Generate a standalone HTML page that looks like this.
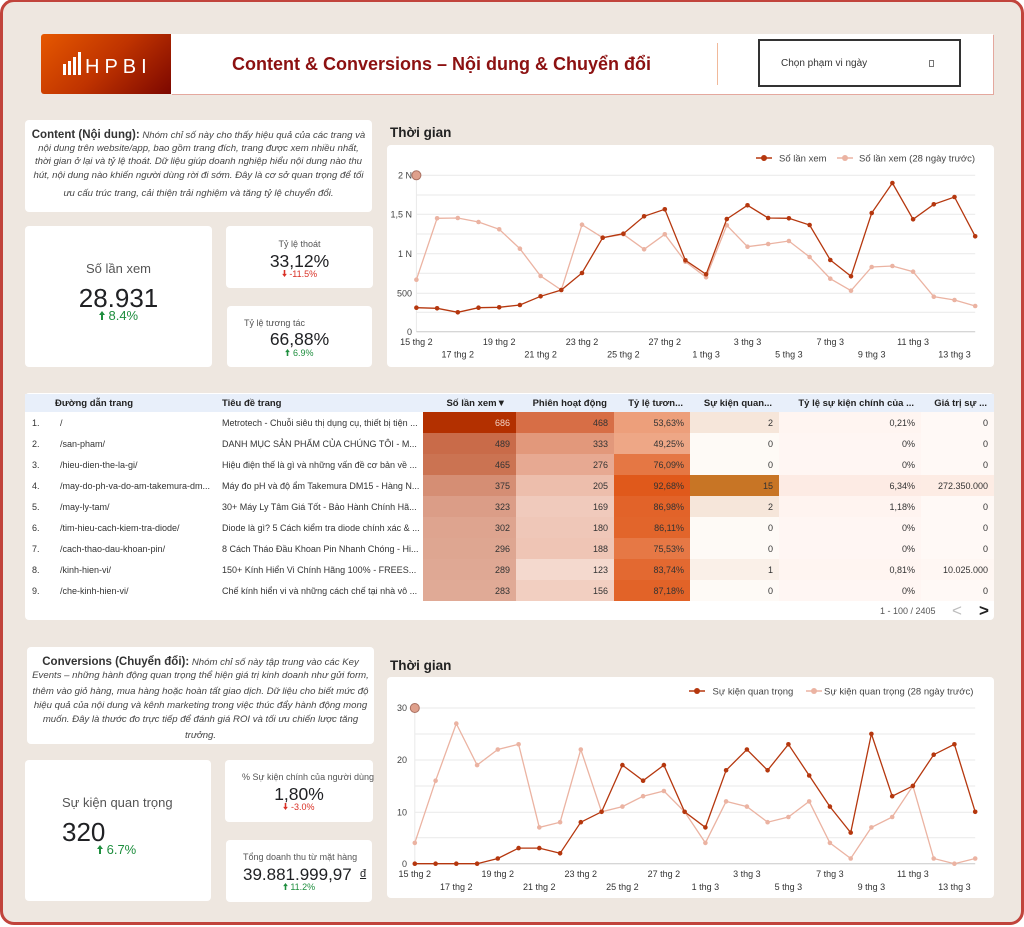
<!DOCTYPE html>
<html><head><meta charset="utf-8">
<style>
*{margin:0;padding:0;box-sizing:border-box}
html,body{width:1024px;height:927px;overflow:hidden;background:#fff}
body{position:relative;font-family:"Liberation Sans","Noto Sans CJK SC",sans-serif;color:#333}
.frame{position:absolute;left:0;top:-1px;width:1024px;height:926px;border:3px solid #c1443c;border-radius:14px;background:#eee7e0}
.a{position:absolute;white-space:nowrap}
.card{position:absolute;background:#fff;border-radius:4px}
.dl{position:absolute;white-space:nowrap;text-align:center;font-size:9.6px;font-style:italic;color:#444;line-height:14px}
.dl b{font-style:normal;font-size:11.5px;color:#333}
.lab{color:#555}
.g{color:#1e8e3e}
.r{color:#d93025}
table{position:absolute;left:25px;top:394px;width:969px;border-collapse:collapse;table-layout:fixed;font-size:9px}
th{height:18px;background:#e8effa;font-weight:bold;font-size:9.5px;color:#222;text-align:right;padding:0 7px 0 0;white-space:nowrap;overflow:hidden}
th.l{text-align:left;padding:0}
td{height:21px;padding:0 6px 0 0;text-align:right;white-space:nowrap;overflow:hidden;color:#333}
td.l{text-align:left;padding:0}
</style></head><body>
<div class="frame"></div>

<!-- Header -->
<div class="a" style="left:41px;top:34px;width:130px;height:60px;border-radius:3px 0 0 3px;background:linear-gradient(135deg,#e65800 0%,#bf3300 50%,#7c0700 100%)"></div>
<div class="a" style="left:63px;top:64px;width:3px;height:11px;background:#fff"></div>
<div class="a" style="left:68px;top:61px;width:3px;height:14px;background:#fff"></div>
<div class="a" style="left:73px;top:57px;width:3px;height:18px;background:#fff"></div>
<div class="a" style="left:78px;top:52px;width:3px;height:23px;background:#fff"></div>
<div class="a" style="left:85px;top:57px;font-size:20px;line-height:20px;color:#fff;letter-spacing:5px">HPBI</div>
<div class="a" style="left:171px;top:34px;width:822px;height:60px;background:#fff;box-shadow:1px 1px 0 #e4a89e"></div>
<div class="a" style="left:232px;top:53px;font-size:18px;line-height:22px;font-weight:bold;color:#8c1111">Content &amp; Conversions – Nội dung &amp; Chuyển đổi</div>
<div class="a" style="left:717px;top:43px;width:1px;height:42px;background:#f1b99a"></div>
<div class="a" style="left:758px;top:39px;width:203px;height:48px;border:2px solid #333;background:#fff"></div>
<div class="a" style="left:781px;top:58px;font-size:10px;line-height:12px;color:#333">Chọn phạm vi ngày</div>
<div class="a" style="left:929px;top:60px;width:5px;height:7px;border:1px solid #777"></div>

<!-- Content description -->
<div class="card" style="left:25px;top:120px;width:347px;height:92px"></div>
<div class="dl" style="left:25px;width:347px;top:128px"><b>Content (Nội dung):</b> Nhóm chỉ số này cho thấy hiệu quả của các trang và</div>
<div class="dl" style="left:25px;width:347px;top:142px">nội dung trên website/app, bao gồm trang đích, trang được xem nhiều nhất,</div>
<div class="dl" style="left:25px;width:347px;top:155px">thời gian ở lại và tỷ lệ thoát. Dữ liệu giúp doanh nghiệp hiểu nội dung nào thu</div>
<div class="dl" style="left:25px;width:347px;top:169px">hút, nội dung nào khiến người dùng rời đi sớm. Đây là cơ sở quan trọng để tối</div>
<div class="dl" style="left:25px;width:347px;top:187px">ưu cấu trúc trang, cải thiện trải nghiệm và tăng tỷ lệ chuyển đổi.</div>

<!-- KPI cards top -->
<div class="card" style="left:25px;top:226px;width:187px;height:141px"></div>
<div class="a lab" style="left:25px;width:187px;text-align:center;top:261px;font-size:13px;line-height:16px">Số lần xem</div>
<div class="a" style="left:25px;width:187px;text-align:center;top:283px;font-size:26px;line-height:30px;color:#202124">28.931</div>
<div class="a g" style="left:25px;width:187px;text-align:center;top:308px;font-size:13px;line-height:16px"><svg width="6" height="9" viewBox="0 0 6 9"><path d="M3 0L6 4H4V9H2V4H0Z" fill="#1e8e3e"/></svg> 8.4%</div>

<div class="card" style="left:226px;top:226px;width:147px;height:62px"></div>
<div class="a lab" style="left:226px;width:147px;text-align:center;top:238px;font-size:9px;line-height:12px">Tỷ lệ thoát</div>
<div class="a" style="left:226px;width:147px;text-align:center;top:251px;font-size:17.5px;line-height:21px;color:#202124">33,12%</div>
<div class="a r" style="left:226px;width:147px;text-align:center;top:269px;font-size:9px;line-height:11px"><svg width="5" height="7" viewBox="0 0 6 9"><path d="M3 9L6 5H4V0H2V5H0Z" fill="#d93025"/></svg> -11.5%</div>

<div class="card" style="left:227px;top:306px;width:145px;height:61px"></div>
<div class="a lab" style="left:244px;top:317px;font-size:9px;line-height:12px">Tỷ lệ tương tác</div>
<div class="a" style="left:227px;width:145px;text-align:center;top:329px;font-size:17.5px;line-height:21px;color:#202124">66,88%</div>
<div class="a g" style="left:227px;width:145px;text-align:center;top:348px;font-size:9px;line-height:11px"><svg width="5" height="7" viewBox="0 0 6 9"><path d="M3 0L6 4H4V9H2V4H0Z" fill="#1e8e3e"/></svg> 6.9%</div>

<!-- Chart 1 -->
<div class="a" style="left:390px;top:125px;font-size:13.5px;line-height:16px;font-weight:bold;color:#222">Thời gian</div>
<div class="card" style="left:387px;top:145px;width:607px;height:222px"></div>

<!-- Table -->
<div class="card" style="left:25px;top:393px;width:969px;height:227px"></div>
<table>
<colgroup><col style="width:30px"><col style="width:161px"><col style="width:207px"><col style="width:93px"><col style="width:98px"><col style="width:76px"><col style="width:89px"><col style="width:142px"><col style="width:73px"></colgroup>
<tr><th></th><th class="l">Đường dẫn trang</th><th class="l" style="padding-left:6px">Tiêu đề trang</th><th style="padding-right:10px">Số lần xem▼</th><th>Phiên hoạt động</th><th>Tỷ lệ tươn...</th><th>Sự kiện quan...</th><th>Tỷ lệ sự kiện chính của ...</th><th>Giá trị sự ...</th></tr>
<tr><td class="l" style="padding-left:7px">1.</td><td class="l" style="padding-left:5px">/</td><td class="l" style="padding-left:6px">Metrotech - Chuỗi siêu thị dụng cụ, thiết bị tiện ...</td><td style="background:rgb(179,48,0);color:#f3d3c5">686</td><td style="background:rgb(215,110,70)">468</td><td style="background:rgb(237,159,123)">53,63%</td><td style="background:rgb(246,230,218)">2</td><td style="background:rgb(255,245,241)">0,21%</td><td style="background:rgb(255,249,246)">0</td></tr>
<tr><td class="l" style="padding-left:7px">2.</td><td class="l" style="padding-left:5px">/san-pham/</td><td class="l" style="padding-left:6px">DANH MỤC SẢN PHẨM CỦA CHÚNG TÔI - M...</td><td style="background:rgb(201,107,73)">489</td><td style="background:rgb(226,152,123)">333</td><td style="background:rgb(238,167,134)">49,25%</td><td style="background:rgb(254,250,246)">0</td><td style="background:rgb(255,246,243)">0%</td><td style="background:rgb(255,249,246)">0</td></tr>
<tr><td class="l" style="padding-left:7px">3.</td><td class="l" style="padding-left:5px">/hieu-dien-the-la-gi/</td><td class="l" style="padding-left:6px">Hiệu điện thế là gì và những vấn đề cơ bản về ...</td><td style="background:rgb(203,115,82)">465</td><td style="background:rgb(231,169,146)">276</td><td style="background:rgb(229,119,68)">76,09%</td><td style="background:rgb(254,250,246)">0</td><td style="background:rgb(255,246,243)">0%</td><td style="background:rgb(255,249,246)">0</td></tr>
<tr><td class="l" style="padding-left:7px">4.</td><td class="l" style="padding-left:5px">/may-do-ph-va-do-am-takemura-dm...</td><td class="l" style="padding-left:6px">Máy đo pH và độ ẩm Takemura DM15 - Hàng N...</td><td style="background:rgb(213,142,116)">375</td><td style="background:rgb(237,190,172)">205</td><td style="background:rgb(224,89,27)">92,68%</td><td style="background:rgb(200,117,37)">15</td><td style="background:rgb(253,235,228)">6,34%</td><td style="background:rgb(253,236,228)">272.350.000</td></tr>
<tr><td class="l" style="padding-left:7px">5.</td><td class="l" style="padding-left:5px">/may-ly-tam/</td><td class="l" style="padding-left:6px">30+ Máy Ly Tâm Giá Tốt - Bảo Hành Chính Hã...</td><td style="background:rgb(219,157,135)">323</td><td style="background:rgb(240,202,188)">169</td><td style="background:rgb(226,99,41)">86,98%</td><td style="background:rgb(246,230,218)">2</td><td style="background:rgb(255,244,240)">1,18%</td><td style="background:rgb(255,249,246)">0</td></tr>
<tr><td class="l" style="padding-left:7px">6.</td><td class="l" style="padding-left:5px">/tim-hieu-cach-kiem-tra-diode/</td><td class="l" style="padding-left:6px">Diode là gì? 5 Cách kiểm tra diode chính xác &amp; ...</td><td style="background:rgb(222,164,143)">302</td><td style="background:rgb(239,199,184)">180</td><td style="background:rgb(226,101,43)">86,11%</td><td style="background:rgb(254,250,246)">0</td><td style="background:rgb(255,246,243)">0%</td><td style="background:rgb(255,249,246)">0</td></tr>
<tr><td class="l" style="padding-left:7px">7.</td><td class="l" style="padding-left:5px">/cach-thao-dau-khoan-pin/</td><td class="l" style="padding-left:6px">8 Cách Tháo Đầu Khoan Pin Nhanh Chóng - Hi...</td><td style="background:rgb(222,166,145)">296</td><td style="background:rgb(239,197,181)">188</td><td style="background:rgb(230,120,69)">75,53%</td><td style="background:rgb(254,250,246)">0</td><td style="background:rgb(255,246,243)">0%</td><td style="background:rgb(255,249,246)">0</td></tr>
<tr><td class="l" style="padding-left:7px">8.</td><td class="l" style="padding-left:5px">/kinh-hien-vi/</td><td class="l" style="padding-left:6px">150+ Kính Hiển Vi Chính Hãng 100% - FREES...</td><td style="background:rgb(223,168,148)">289</td><td style="background:rgb(244,217,206)">123</td><td style="background:rgb(227,105,49)">83,74%</td><td style="background:rgb(250,240,232)">1</td><td style="background:rgb(255,245,241)">0,81%</td><td style="background:rgb(255,247,243)">10.025.000</td></tr>
<tr><td class="l" style="padding-left:7px">9.</td><td class="l" style="padding-left:5px">/che-kinh-hien-vi/</td><td class="l" style="padding-left:6px">Chế kính hiển vi và những cách chế tại nhà vô ...</td><td style="background:rgb(224,170,150)">283</td><td style="background:rgb(242,207,193)">156</td><td style="background:rgb(226,99,40)">87,18%</td><td style="background:rgb(254,250,246)">0</td><td style="background:rgb(255,246,243)">0%</td><td style="background:rgb(255,249,246)">0</td></tr>
</table>
<div class="a" style="left:880px;top:605px;font-size:9px;line-height:12px;color:#555">1 - 100 / 2405</div>
<div class="a" style="left:952px;top:601px;font-size:17px;line-height:20px;color:#bdbdbd">&lt;</div>
<div class="a" style="left:979px;top:601px;font-size:17px;line-height:20px;color:#222;font-weight:bold">&gt;</div>

<!-- Conversions description -->
<div class="card" style="left:27px;top:647px;width:347px;height:97px"></div>
<div class="dl" style="left:27px;width:347px;top:655px"><b>Conversions (Chuyển đổi):</b> Nhóm chỉ số này tập trung vào các Key</div>
<div class="dl" style="left:27px;width:347px;top:669px">Events – những hành động quan trọng thể hiện giá trị kinh doanh như gửi form,</div>
<div class="dl" style="left:27px;width:347px;top:685px">thêm vào giỏ hàng, mua hàng hoặc hoàn tất giao dịch. Dữ liệu cho biết mức độ</div>
<div class="dl" style="left:27px;width:347px;top:699px">hiệu quả của nội dung và kênh marketing trong việc thúc đẩy hành động mong</div>
<div class="dl" style="left:27px;width:347px;top:713px">muốn. Đây là thước đo trực tiếp để đánh giá ROI và tối ưu chiến lược tăng</div>
<div class="dl" style="left:27px;width:347px;top:729px">trưởng.</div>

<!-- KPI cards bottom -->
<div class="card" style="left:25px;top:760px;width:186px;height:141px"></div>
<div class="a lab" style="left:62px;top:795px;font-size:13px;line-height:16px">Sự kiện quan trọng</div>
<div class="a" style="left:62px;top:817px;font-size:26px;line-height:30px;color:#202124">320</div>
<div class="a g" style="left:97px;top:842px;font-size:13px;line-height:16px"><svg width="6" height="9" viewBox="0 0 6 9"><path d="M3 0L6 4H4V9H2V4H0Z" fill="#1e8e3e"/></svg> 6.7%</div>

<div class="card" style="left:225px;top:760px;width:148px;height:62px"></div>
<div class="a lab" style="left:242px;top:771px;font-size:9px;line-height:12px">% Sự kiện chính của người dùng</div>
<div class="a" style="left:225px;width:148px;text-align:center;top:784px;font-size:17.5px;line-height:21px;color:#202124">1,80%</div>
<div class="a r" style="left:225px;width:148px;text-align:center;top:802px;font-size:9px;line-height:11px"><svg width="5" height="7" viewBox="0 0 6 9"><path d="M3 9L6 5H4V0H2V5H0Z" fill="#d93025"/></svg> -3.0%</div>

<div class="card" style="left:226px;top:840px;width:146px;height:62px"></div>
<div class="a lab" style="left:243px;top:851px;font-size:9px;line-height:12px">Tổng doanh thu từ mặt hàng</div>
<div class="a" style="left:243px;top:865px;font-size:17px;line-height:20px;color:#202124">39.881.999,97</div>
<div class="a" style="left:360px;top:867px;font-size:11px;line-height:14px;color:#202124;text-decoration:underline">đ</div>
<div class="a g" style="left:226px;width:146px;text-align:center;top:882px;font-size:9px;line-height:11px"><svg width="5" height="7" viewBox="0 0 6 9"><path d="M3 0L6 4H4V9H2V4H0Z" fill="#1e8e3e"/></svg> 11.2%</div>

<!-- Chart 2 -->
<div class="a" style="left:390px;top:658px;font-size:13.5px;line-height:16px;font-weight:bold;color:#222">Thời gian</div>
<div class="card" style="left:387px;top:677px;width:607px;height:221px"></div>

<svg class="a" style="left:0;top:0" width="1024" height="927" viewBox="0 0 1024 927" font-family="Liberation Sans, sans-serif">
<defs>
<marker id="md" markerWidth="6" markerHeight="6" refX="3" refY="3" markerUnits="userSpaceOnUse"><circle cx="3" cy="3" r="2.3" fill="#b5370e"/></marker>
<marker id="ml" markerWidth="6" markerHeight="6" refX="3" refY="3" markerUnits="userSpaceOnUse"><circle cx="3" cy="3" r="2.3" fill="#ebb3a2"/></marker>
</defs>
<!-- chart1 grid -->
<g stroke="#e9e9e9" stroke-width="1">
<line x1="416.4" x2="975.2" y1="175.3" y2="175.3"/><line x1="416.4" x2="975.2" y1="195" y2="195"/>
<line x1="416.4" x2="975.2" y1="214.3" y2="214.3"/><line x1="416.4" x2="975.2" y1="234" y2="234"/>
<line x1="416.4" x2="975.2" y1="253.7" y2="253.7"/><line x1="416.4" x2="975.2" y1="273.3" y2="273.3"/>
<line x1="416.4" x2="975.2" y1="293.3" y2="293.3"/><line x1="416.4" x2="975.2" y1="312.3" y2="312.3"/>
<line x1="416.4" x2="416.4" y1="175.3" y2="331.7"/>
</g>
<line x1="416.4" x2="975.2" y1="331.7" y2="331.7" stroke="#c8c8c8"/>
<g font-size="9" fill="#444" text-anchor="end">
<text x="412" y="178.5">2 N</text><text x="412" y="217.5">1,5 N</text><text x="412" y="256.9">1 N</text><text x="412" y="296.5">500</text><text x="412" y="334.9">0</text>
</g>
<g font-size="9" fill="#333" text-anchor="middle">
<text x="416.4" y="345">15 thg 2</text><text x="499.2" y="345">19 thg 2</text><text x="582" y="345">23 thg 2</text><text x="664.8" y="345">27 thg 2</text><text x="747.5" y="345">3 thg 3</text><text x="830.3" y="345">7 thg 3</text><text x="913.1" y="345">11 thg 3</text>
<text x="457.8" y="357.5">17 thg 2</text><text x="540.6" y="357.5">21 thg 2</text><text x="623.4" y="357.5">25 thg 2</text><text x="706.1" y="357.5">1 thg 3</text><text x="788.9" y="357.5">5 thg 3</text><text x="871.7" y="357.5">9 thg 3</text><text x="954.5" y="357.5">13 thg 3</text>
</g>
<polyline fill="none" stroke="#ebb3a2" stroke-width="1.3" marker-start="url(#ml)" marker-mid="url(#ml)" marker-end="url(#ml)" points="416.4,279.7 437.1,218.3 457.8,218.0 478.5,222.0 499.2,229.3 519.9,248.7 540.6,276.0 561.3,290.0 582.0,224.7 602.7,237.7 623.4,234.3 644.1,249.3 664.8,234.3 685.4,261.7 706.1,277.3 726.8,225.3 747.5,246.7 768.2,244.0 788.9,241.0 809.6,257.0 830.3,278.7 851.0,290.7 871.7,267.0 892.4,266.0 913.1,271.7 933.8,296.7 954.5,300.0 975.2,306.0"/>
<polyline fill="none" stroke="#b5370e" stroke-width="1.3" marker-start="url(#md)" marker-mid="url(#md)" marker-end="url(#md)" points="416.4,307.7 437.1,308.3 457.8,312.3 478.5,307.7 499.2,307.3 519.9,305.0 540.6,296.3 561.3,290.0 582.0,273.0 602.7,237.7 623.4,233.7 644.1,216.3 664.8,209.3 685.4,260.3 706.1,274.3 726.8,219.0 747.5,205.3 768.2,218.0 788.9,218.3 809.6,225.0 830.3,260.0 851.0,276.3 871.7,213.0 892.4,183.0 913.1,219.3 933.8,204.3 954.5,197.0 975.2,236.3"/>
<circle cx="416.4" cy="175.3" r="4.5" fill="#dfa08c" stroke="#a86f60" stroke-width="1"/>
<!-- legend1 -->
<line x1="756" x2="772" y1="158" y2="158" stroke="#b5370e" stroke-width="1.5"/><circle cx="764" cy="158" r="3" fill="#b5370e"/>
<text x="779" y="161.5" font-size="9.5" fill="#444">Số lần xem</text>
<line x1="837" x2="853" y1="158" y2="158" stroke="#ebb3a2" stroke-width="1.5"/><circle cx="845" cy="158" r="3" fill="#ebb3a2"/>
<text x="859" y="161.5" font-size="9.5" fill="#444">Số lần xem (28 ngày trước)</text>

<!-- chart2 grid -->
<g stroke="#e9e9e9" stroke-width="1">
<line x1="414.8" x2="975.2" y1="708" y2="708"/><line x1="414.8" x2="975.2" y1="734" y2="734"/>
<line x1="414.8" x2="975.2" y1="760" y2="760"/><line x1="414.8" x2="975.2" y1="786" y2="786"/>
<line x1="414.8" x2="975.2" y1="812.3" y2="812.3"/><line x1="414.8" x2="975.2" y1="837.7" y2="837.7"/>
<line x1="414.8" x2="414.8" y1="708" y2="863.7"/>
</g>
<line x1="414.8" x2="975.2" y1="863.7" y2="863.7" stroke="#c8c8c8"/>
<g font-size="9" fill="#444" text-anchor="end">
<text x="407" y="711.2">30</text><text x="407" y="763.2">20</text><text x="407" y="815.5">10</text><text x="407" y="866.9">0</text>
</g>
<g font-size="9" fill="#333" text-anchor="middle">
<text x="414.8" y="877">15 thg 2</text><text x="497.8" y="877">19 thg 2</text><text x="580.8" y="877">23 thg 2</text><text x="663.9" y="877">27 thg 2</text><text x="746.9" y="877">3 thg 3</text><text x="829.9" y="877">7 thg 3</text><text x="912.9" y="877">11 thg 3</text>
<text x="456.3" y="890">17 thg 2</text><text x="539.3" y="890">21 thg 2</text><text x="622.4" y="890">25 thg 2</text><text x="705.4" y="890">1 thg 3</text><text x="788.4" y="890">5 thg 3</text><text x="871.4" y="890">9 thg 3</text><text x="954.4" y="890">13 thg 3</text>
</g>
<polyline fill="none" stroke="#ebb3a2" stroke-width="1.3" marker-start="url(#ml)" marker-mid="url(#ml)" marker-end="url(#ml)" points="414.8,842.9 435.6,780.7 456.3,723.6 477.1,765.1 497.8,749.5 518.6,744.3 539.3,827.4 560.1,822.2 580.8,749.5 601.6,811.8 622.4,806.6 643.1,796.2 663.9,791.0 684.6,811.8 705.4,842.9 726.1,801.4 746.9,806.6 767.6,822.2 788.4,817.0 809.2,801.4 829.9,842.9 850.7,858.5 871.4,827.4 892.2,817.0 912.9,785.9 933.7,858.5 954.4,863.7 975.2,858.5"/>
<polyline fill="none" stroke="#b5370e" stroke-width="1.3" marker-start="url(#md)" marker-mid="url(#md)" marker-end="url(#md)" points="414.8,863.7 435.6,863.7 456.3,863.7 477.1,863.7 497.8,858.5 518.6,848.1 539.3,848.1 560.1,853.3 580.8,822.2 601.6,811.8 622.4,765.1 643.1,780.7 663.9,765.1 684.6,811.8 705.4,827.4 726.1,770.3 746.9,749.5 767.6,770.3 788.4,744.3 809.2,775.5 829.9,806.6 850.7,832.6 871.4,733.9 892.2,796.2 912.9,785.9 933.7,754.7 954.4,744.3 975.2,811.8"/>
<circle cx="414.8" cy="708" r="4.5" fill="#dfa08c" stroke="#a86f60" stroke-width="1"/>
<!-- legend2 -->
<line x1="689" x2="705" y1="691" y2="691" stroke="#b5370e" stroke-width="1.5"/><circle cx="697" cy="691" r="3" fill="#b5370e"/>
<text x="712.5" y="694.5" font-size="9.5" fill="#444">Sự kiện quan trọng</text>
<line x1="806" x2="822" y1="691" y2="691" stroke="#ebb3a2" stroke-width="1.5"/><circle cx="814" cy="691" r="3" fill="#ebb3a2"/>
<text x="824" y="694.5" font-size="9.5" fill="#444">Sự kiện quan trọng (28 ngày trước)</text>
</svg>
</body></html>
